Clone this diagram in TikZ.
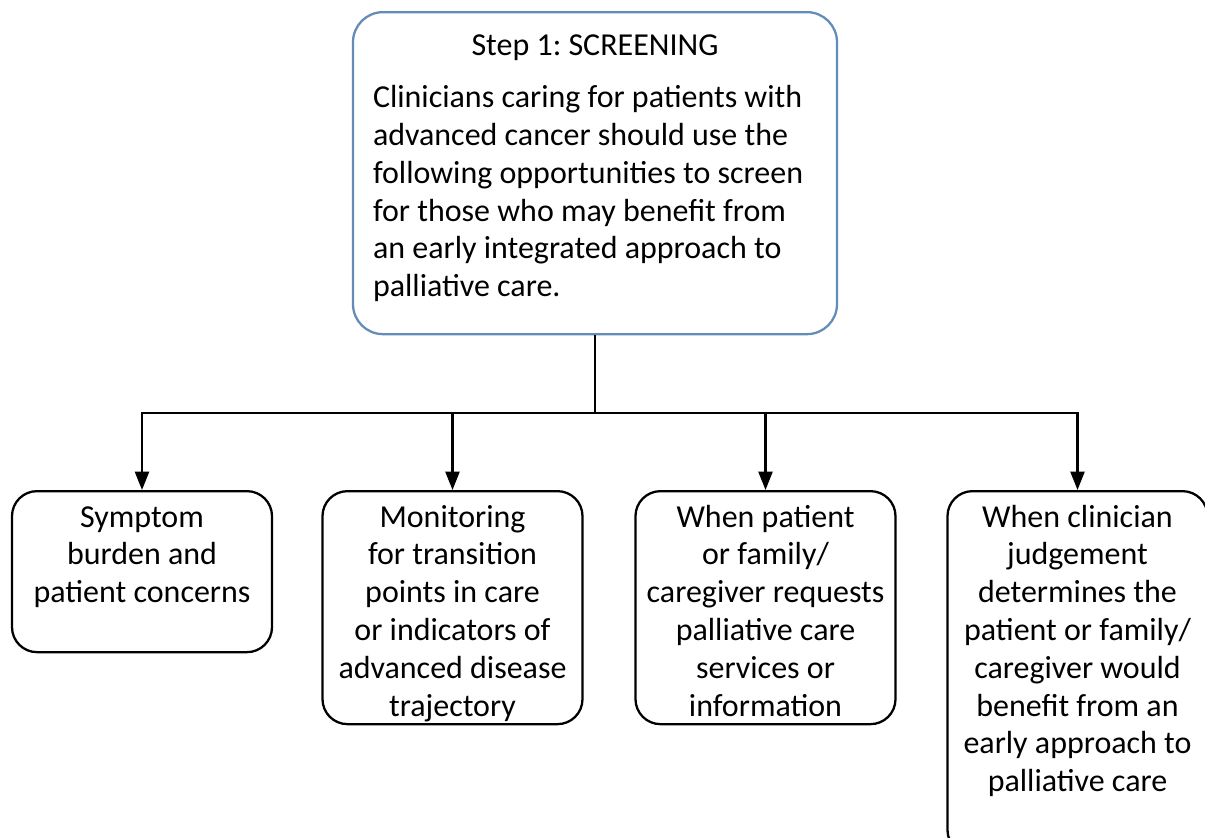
\documentclass[tikz,border=0pt]{standalone}
\usepackage{fontspec}
\setmainfont{Carlito}
\usepackage{tikz}
\usetikzlibrary{arrows.meta,positioning,calc}
\definecolor{stepblue}{RGB}{100,140,185}
\frenchspacing
\newlength\Textwd
\setlength\Textwd{5cm}
\newcommand\Textbox[2]{%
  \parbox[t][#1][t]{\Textwd}{\centering\strut#2}}
\tikzset{
  pick/.style={
    draw,
    line width=1.3pt,
    rounded corners=0.5cm,
    inner xsep=0.1cm,
    inner ysep=0.19cm,
    anchor=north
  },
  flow/.style={-{Triangle[length=10.5pt,width=8pt]}, line width=1.3pt}
}

\begin{document}
\begin{tikzpicture}[font=\fontsize{18.2}{21.5}\selectfont]
        \useasboundingbox (0,0) rectangle (24.1,-16.74);

        % Step 1 box
        \node (screen) [draw=stepblue, line width=1.3pt, rounded corners=0.6cm,
          inner xsep=0.4cm, inner ysep=0.33cm, anchor=north] at (11.9,-0.22) {
          \parbox[t][5.78cm][t]{8.88cm}{{\centering\strut Step 1: SCREENING\par}\vspace{8.5pt}
            \raggedright Clinicians caring for patients with\\
            advanced cancer should use the\\
            following opportunities to screen\\
            for those who may benefit from\\
            an early integrated approach to\\
            palliative care.}
        };

        \coordinate [below=1.56cm of screen] (hub);

        % Opportunities
        \node (symptom) [pick] at (2.84,-9.8) {\Textbox{2.84cm}{Symptom\\ burden and\\ patient concerns}};
        \node (monitor) [pick] at (9.05,-9.8) {\Textbox{4.28cm}{Monitoring\\ for transition\\ points in care\\ or indicators of\\ advanced disease\\ trajectory}};
        \node (request) [pick] at (15.31,-9.8) {\Textbox{4.28cm}{When patient\\ or family/\\ caregiver requests\\ palliative care\\ services or\\ information}};
        \node (judge) [pick] at (21.55,-9.8) {\Textbox{6.9cm}{When clinician\\ judgement\\ determines the\\ patient or family/\\ caregiver would\\ benefit from an\\ early approach to\\ palliative care}};

        \draw [line width=1.3pt] (screen.south) -- (hub);
        \foreach \target in {symptom,monitor,request,judge}
          \draw [flow] (hub) -| (\target.north);

\end{tikzpicture}
\end{document}
